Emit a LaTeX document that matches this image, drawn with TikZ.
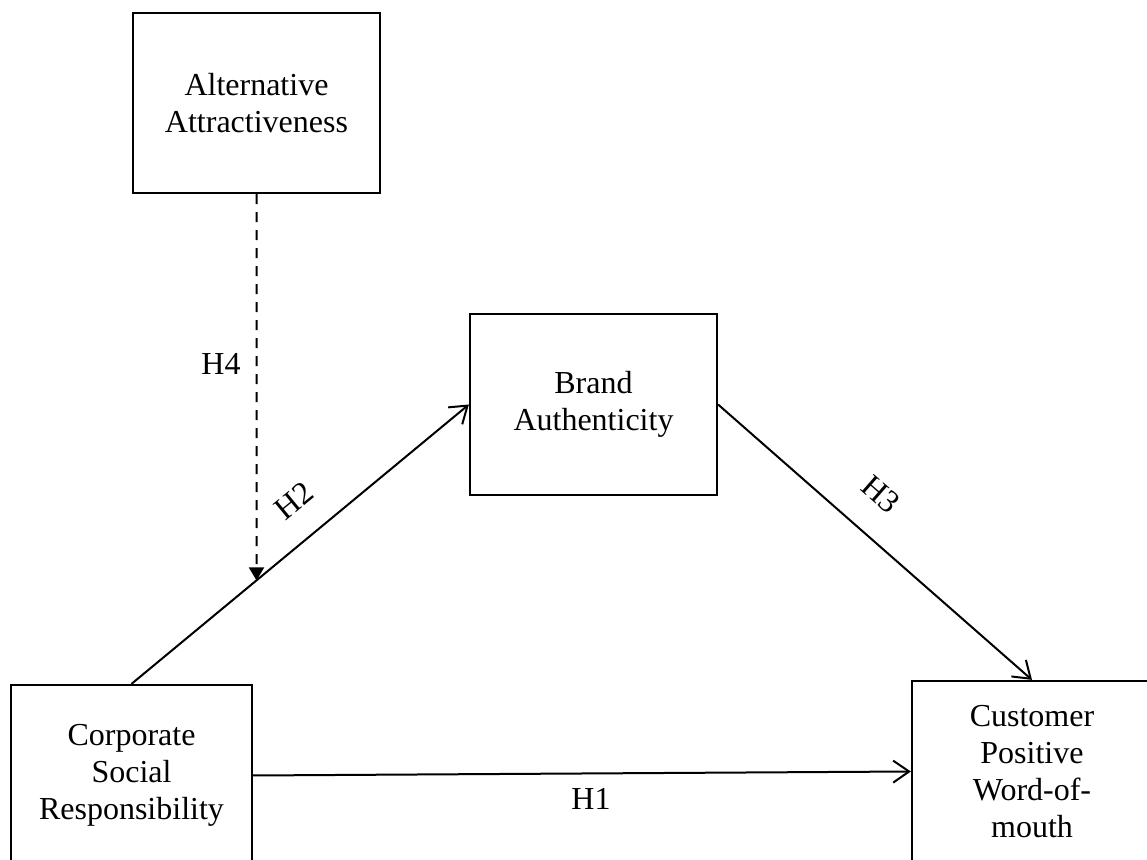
\documentclass[tikz,border=0pt]{standalone}
\usepackage{fontspec}
\setmainfont{Liberation Serif}
\usetikzlibrary{arrows.meta}

\begin{document}
\begin{tikzpicture}[x=.5pt,y=-.5pt,>={Straight Barb[length=8pt,width=11pt]},
  box/.style={draw,line width=1.1pt,inner sep=0pt,align=center,minimum height=90.5pt,
    font=\fontsize{16}{18.5}\selectfont},
  hyp/.style={inner sep=0pt,font=\fontsize{16}{18.5}\selectfont}]
\useasboundingbox (0,0) rectangle (1147,860);
\clip (0,0) rectangle (1147,860);
% constructs
\node[box,minimum width=123.5pt,minimum height=90pt] (alt) at (256.5,103) {Alternative\\Attractiveness};
\node[box,minimum width=123.5pt] (brand) at (593.5,404.5) {Brand\\Authenticity};
\node[box,minimum width=120.5pt] (csr) at (131.5,775.5) {Corporate\\Social\\Responsibility};
\node[box,minimum width=120pt] (cust) at (1032,771.5) {Customer\\Positive\\Word-of-\\mouth};
% paths
\draw[->,line width=1pt] (csr.north) -- (brand.west);
\draw[->,line width=1pt] (brand.east) -- (cust.north);
\draw[->,line width=1pt] (csr.east) -- (cust.west);
\coordinate (mod) at (intersection of alt.south--alt.north and csr.north--brand.west);
\draw[-{Triangle[length=6.5pt,width=7.5pt]},line width=1pt,dash pattern=on 5pt off 4pt] (alt.south) -- (mod);
% hypotheses
\node[hyp] (h1) at (591,799) {H1};
\node[hyp,rotate=39.4] (h2) at (294,501) {H2};
\node[hyp,rotate=-41] (h3) at (881,494) {H3};
\node[hyp] (h4) at (221,364) {H4};
\end{tikzpicture}
\end{document}
